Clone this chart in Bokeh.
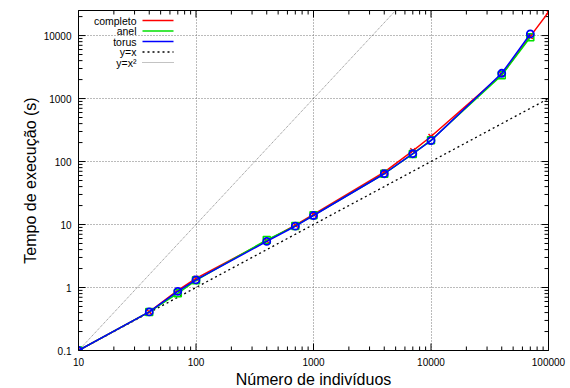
from bokeh.plotting import figure
from bokeh.models import (Range1d, FixedTicker, LogAxis, CustomJSTickFormatter,
                          Label, Arrow, ColumnDataSource)
from bokeh.embed import file_html
from bokeh.resources import INLINE
import math

# ---- data ----
n_ind = [10, 40, 70, 100, 400, 700, 1000, 4000, 7000, 10000, 40000, 70000, 100000]
completo = [0.1, 0.41, 0.9, 1.4, 5.5, 9.8, 14.5, 68, 148, 250, 2400, 9700, 23500]
n_ind_short = [10, 40, 70, 100, 400, 700, 1000, 4000, 7000, 10000, 40000, 70000]
anel = [0.1, 0.41, 0.81, 1.3, 5.7, 9.5, 14.0, 64, 132, 218, 2350, 9400]
torus = [0.1, 0.41, 0.87, 1.32, 5.4, 9.4, 13.9, 64, 133, 215, 2520, 10600]

ref_x = [10, 100000]
ref_yx = [0.1, 1000]          # y=x reference (scaled)
ref_yx2 = [0.1, 10000000]     # y=x^2 reference (scaled)

x_major = [10, 100, 1000, 10000, 100000]
y_major = [0.1, 1, 10, 100, 1000, 10000]
x_minor = [m * d for d in [10, 100, 1000, 10000] for m in range(2, 10)]
y_minor = [m * d for d in [0.1, 1, 10, 100, 1000, 10000] for m in range(2, 10)]

X_LO, X_HI = 10, 100000
Y_LO, Y_HI = 0.1, 25000

FONT = "Liberation Sans"
FW, FH = 470, 340

p = figure(x_axis_type="log", y_axis_type="log",
           frame_width=FW, frame_height=FH,
           min_border_left=78, min_border_right=20,
           min_border_top=10, min_border_bottom=36,
           output_backend="svg", toolbar_location=None,
           x_range=Range1d(X_LO, X_HI), y_range=Range1d(Y_LO, Y_HI))

p.outline_line_color = "black"
p.outline_line_width = 1
p.background_fill_color = "white"

fmt = CustomJSTickFormatter(code="return tick.toString();")
blank = CustomJSTickFormatter(code="return '';")

def style_axis(ax, major, minor, labels=True):
    ax.ticker = FixedTicker(ticks=major, minor_ticks=minor)
    ax.formatter = fmt if labels else blank
    ax.axis_line_color = "black"
    ax.axis_line_width = 1
    ax.major_tick_line_color = None
    ax.minor_tick_line_color = None
    ax.major_tick_in = 0
    ax.major_tick_out = 0
    ax.minor_tick_in = 0
    ax.minor_tick_out = 0
    ax.major_label_text_font = FONT
    ax.major_label_text_font_size = "10px" if labels else "0px"
    ax.major_label_text_color = "black"
    ax.major_label_standoff = 7 if labels else 0

style_axis(p.xaxis[0], x_major, x_minor)
style_axis(p.yaxis[0], y_major, y_minor)
p.xaxis.axis_label = "Número de indivíduos"
p.yaxis.axis_label = "Tempo de execução (s)"
for ax in (p.xaxis[0], p.yaxis[0]):
    ax.axis_label_text_font = FONT
    ax.axis_label_text_font_size = "16px"
    ax.axis_label_text_font_style = "normal"
    ax.axis_label_text_color = "black"
    ax.axis_label_standoff = 2

top_ax = LogAxis()
style_axis(top_ax, x_major, x_minor, labels=False)
p.add_layout(top_ax, "above")
right_ax = LogAxis()
style_axis(right_ax, y_major, y_minor, labels=False)
p.add_layout(right_ax, "right")

for g in (p.xgrid[0], p.ygrid[0]):
    g.grid_line_color = "#777777"
    g.grid_line_dash = "1 2"
    g.grid_line_width = 1

# inward tick marks (gnuplot style), derived from the tick lists
x_dec_px = FW / (math.log10(X_HI) - math.log10(X_LO))
y_dec_px = FH / (math.log10(Y_HI) - math.log10(Y_LO))

x0s, x1s, y0s, y1s = [], [], [], []
for ticks, L in ((x_major, 7.0), (x_minor, 4.0)):
    for t in ticks:
        f = 10 ** (L / y_dec_px)
        x0s += [float(t), float(t)]
        x1s += [float(t), float(t)]
        y0s += [Y_LO, Y_HI]
        y1s += [Y_LO * f, Y_HI / f]
for ticks, L in ((y_major, 7.0), (y_minor, 4.0)):
    for t in ticks:
        if t > Y_HI:
            continue
        f = 10 ** (L / x_dec_px)
        y0s += [float(t), float(t)]
        y1s += [float(t), float(t)]
        x0s += [float(X_LO), float(X_HI)]
        x1s += [X_LO * f, X_HI / f]
tick_src = ColumnDataSource(data=dict(x0=x0s, y0=y0s, x1=x1s, y1=y1s))
p.segment(x0="x0", y0="y0", x1="x1", y1="y1", source=tick_src,
          line_color="black", line_width=1)

# reference lines
p.line(ref_x, ref_yx, line_color="black", line_dash="2 3", line_width=1.3)
p.line(ref_x, ref_yx2, line_color="#555555", line_dash="1 1", line_width=0.7)

# series
p.line(n_ind, completo, line_color="#ff0000", line_width=1.5)
p.scatter(n_ind, completo, marker="x", size=7, line_color="#ff0000", line_width=1.5)
p.line(n_ind_short, anel, line_color="#00e000", line_width=1.5)
p.scatter(n_ind_short, anel, marker="square", size=7, line_color="#00e000",
          fill_color=None, line_width=1.5)
p.line(n_ind_short, torus, line_color="#0000ff", line_width=1.5)
p.scatter(n_ind_short, torus, marker="circle", size=7, line_color="#0000ff",
          fill_color=None, line_width=1.8)

# manual gnuplot-style key
key = [("completo", "#ff0000", None, 1.5),
       ("anel", "#00e000", None, 1.5),
       ("torus", "#0000ff", None, 1.5),
       ("y=x", "black", "2 3", 1.3),
       ("y=x²", "#555555", "1 1", 0.7)]
for i, (lab, col, dash, lw) in enumerate(key):
    yy = FH - 10 - i * 10.5
    p.add_layout(Label(x=58, y=yy, x_units="screen", y_units="screen", text=lab,
                       text_align="right", text_baseline="middle",
                       text_font=FONT, text_font_size="10.5px", text_color="black"))
    kw = dict(line_color=col, line_width=lw)
    if dash:
        kw["line_dash"] = dash
    p.add_layout(Arrow(end=None, x_start=64, y_start=yy, x_end=95, y_end=yy,
                       start_units="screen", end_units="screen", **kw))

open("out.html", "w").write(file_html(p, INLINE))
